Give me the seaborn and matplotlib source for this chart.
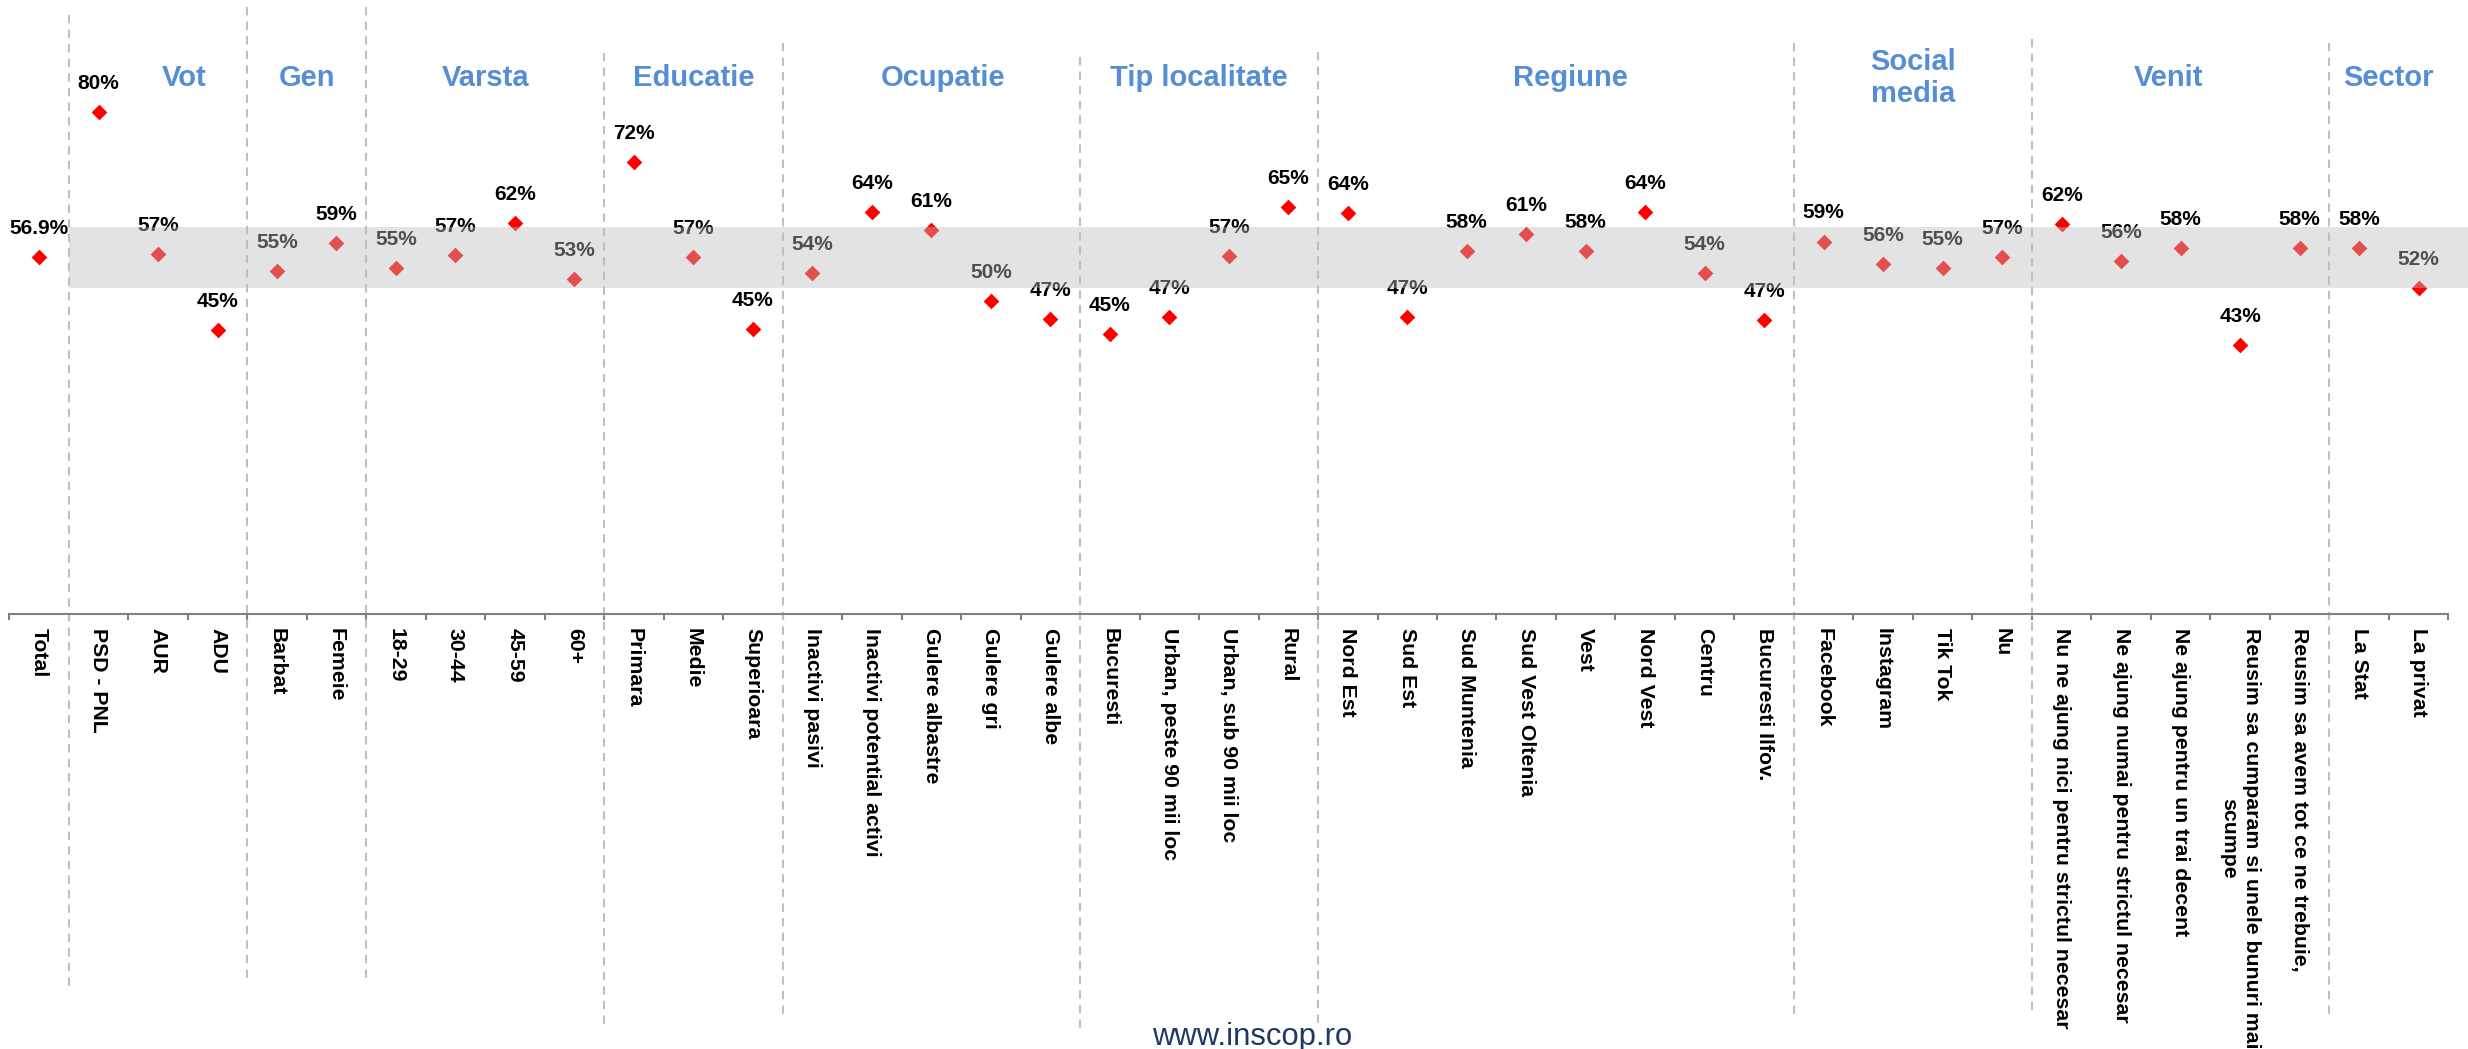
import matplotlib
matplotlib.use('Agg')
import numpy as np
import pandas as pd
import matplotlib.pyplot as plt
import matplotlib.transforms as mtransforms
import seaborn as sns

# ---- data ----
categories = [
    'Total',
    'PSD - PNL', 'AUR', 'ADU',
    'Barbat', 'Femeie',
    '18-29', '30-44', '45-59', '60+',
    'Primara', 'Medie', 'Superioara',
    'Inactivi pasivi', 'Inactivi potential activi', 'Gulere albastre', 'Gulere gri', 'Gulere albe',
    'Bucuresti', 'Urban, peste 90 mii loc', 'Urban, sub 90 mii loc', 'Rural',
    'Nord Est', 'Sud Est', 'Sud Muntenia', 'Sud Vest Oltenia', 'Vest', 'Nord Vest', 'Centru',
    'Bucuresti Ilfov.',
    'Facebook', 'Instagram', 'Tik Tok', 'Nu',
    'Nu ne ajung nici pentru strictul necesar', 'Ne ajung numai pentru strictul necesar',
    'Ne ajung pentru un trai decent', 'Reusim sa cumparam si unele bunuri mai\nscumpe',
    'Reusim sa avem tot ce ne trebuie,',
    'La Stat', 'La privat',
]
values = [
    56.9,
    80.2, 57.4, 45.2,
    54.7, 59.1,
    55.2, 57.3, 62.4, 53.3,
    72.2, 56.9, 45.3,
    54.4, 64.1, 61.3, 49.8, 46.9,
    44.6, 47.2, 57.0, 64.9,
    64.0, 47.2, 57.9, 60.6, 57.8, 64.1, 54.4, 46.8,
    59.4, 55.8, 55.1, 56.9,
    62.2, 56.3, 58.3, 42.7, 58.4,
    58.3, 52.0,
]
group_titles = ['Vot', 'Gen', 'Varsta', 'Educatie', 'Ocupatie', 'Tip localitate',
                'Regiune', 'Social\nmedia', 'Venit', 'Sector']
group_sizes = [3, 2, 4, 3, 5, 4, 8, 4, 5, 2]
band_low, band_high = 51.9, 61.7

# ---- layout (pixels of the 2468x1049 canvas) ----
W, H = 2468, 1049
ax_left, ax_width, ax_bottom_px = 9.3, 2439, 614
px_per_pct = 6.22
zero_px = 611
title_shift = [0.44, 0, 0, 0, 0.2, 0, 0.25, 0, -0.2, 0]
sep_top = [15, 7, 7, 53, 43, 57, 52, 43, 39, 43]
sep_bottom = [988, 980, 980, 1027, 1017, 1030, 1025, 1017, 1012, 1017]

sns.set_theme(style='white')
plt.rcParams['font.family'] = ['Liberation Sans', 'DejaVu Sans']

red = '#FF0000'
title_blue = '#558ED5'
grid_gray = '#BFBFBF'
axis_gray = '#808080'

df = pd.DataFrame({'cat': categories, 'val': values})

fig = plt.figure(figsize=(W / 100, H / 100), dpi=100)
ax = fig.add_axes([ax_left / W, (H - ax_bottom_px) / H, ax_width / W, ax_bottom_px / H])

sns.stripplot(data=df, x='cat', y='val', order=categories, jitter=False,
              marker='D', size=8, color=red, linewidth=0, ax=ax, zorder=2)

n = len(categories)
ax.set_xlim(-0.5, n - 0.5)
ax.set_ylim(-(ax_bottom_px - zero_px) / px_per_pct, zero_px / px_per_pct)

# data labels
for i, v in enumerate(values):
    txt = '{:.1f}%'.format(v) if i == 0 else '{:.0f}%'.format(v)
    ax.annotate(txt, (i, v), xytext=(0, 16.6), textcoords='offset points',
                ha='center', va='baseline', fontsize=15, fontweight='bold',
                color='black', zorder=3)

# grey band around the total (drawn on top, semi transparent)
ax.fill_between([0.5, (W - ax_left) / (ax_width / n) - 0.5], band_low, band_high,
                color='#BEBEBE', alpha=0.42, linewidth=0, zorder=5, clip_on=False)

# group separators and titles
trans = mtransforms.blended_transform_factory(ax.transData, ax.transAxes)
start = 1
for k, size in enumerate(group_sizes):
    xb = start - 0.5
    y0 = (ax_bottom_px - sep_top[k]) / ax_bottom_px
    y1 = (ax_bottom_px - sep_bottom[k]) / ax_bottom_px
    ax.plot([xb, xb], [y0, y1], transform=trans, color=grid_gray, lw=1.5,
            ls=(0, (4, 3)), clip_on=False, zorder=1.5)
    xc = start + (size - 1) / 2 + title_shift[k]
    ax.text(xc, (ax_bottom_px - 78) / ax_bottom_px, group_titles[k], transform=trans,
            ha='center', va='center', fontsize=21, fontweight='bold',
            color=title_blue, linespacing=1.2)
    start += size

# axes styling
for s in ['left', 'top', 'right']:
    ax.spines[s].set_visible(False)
ax.spines['bottom'].set_color(axis_gray)
ax.spines['bottom'].set_linewidth(1.5)
ax.set_yticks([])
ax.set_xlabel('')
ax.set_ylabel('')

ax.set_xticks(range(n))
ax.set_xticklabels(categories, rotation=-90, ha='center', va='top',
                   multialignment='center', fontsize=15.3, fontweight='bold',
                   color='black')
ax.tick_params(axis='x', which='major', length=0, pad=10)
ax.set_xticks(np.arange(-0.5, n, 1.0), minor=True)
ax.tick_params(axis='x', which='minor', length=4.3, width=1.5, color=axis_gray,
               direction='out', bottom=True)

fig.text(1252 / W, 4 / H, 'www.inscop.ro', ha='center', va='baseline',
         fontsize=22.3, color='#1F3864')

fig.savefig('out.png', dpi=100, facecolor='white')
